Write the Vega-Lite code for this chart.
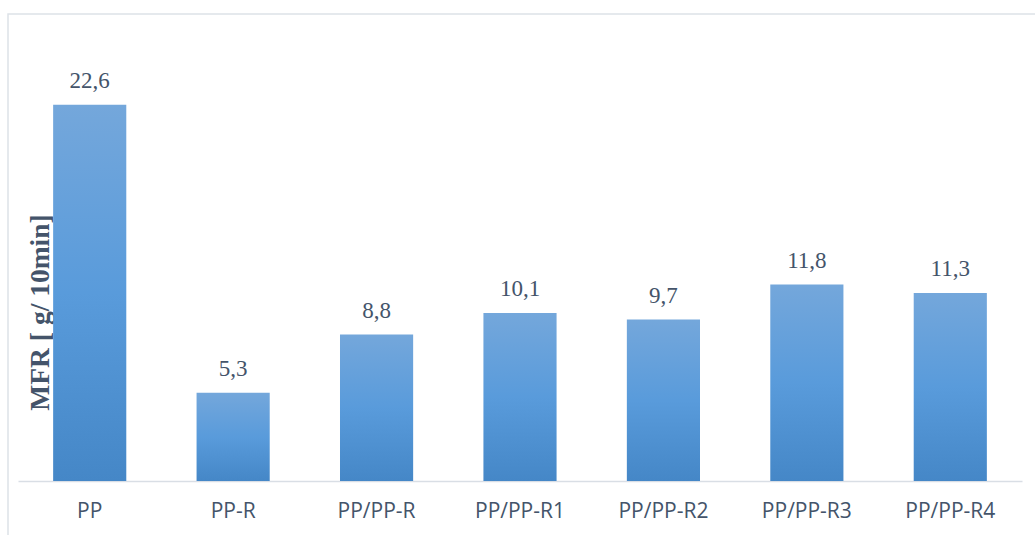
{
  "$schema": "https://vega.github.io/schema/vega-lite/v6.json",
  "autosize": "none",
  "width": 1040,
  "height": 530,
  "padding": {"left": 8, "top": 14, "right": -13, "bottom": -9},
  "background": "white",
  "config": {
    "view": {"stroke": "#dde2e8", "strokeWidth": 1.5},
    "locale": {"number": {"decimal": ",", "thousands": ".", "grouping": [3], "currency": ["", " €"]}}
  },
  "data": {
    "values": [
      {"sample": "PP", "mfr": 22.6},
      {"sample": "PP-R", "mfr": 5.3},
      {"sample": "PP/PP-R", "mfr": 8.8},
      {"sample": "PP/PP-R1", "mfr": 10.1},
      {"sample": "PP/PP-R2", "mfr": 9.7},
      {"sample": "PP/PP-R3", "mfr": 11.8},
      {"sample": "PP/PP-R4", "mfr": 11.3}
    ]
  },
  "encoding": {
    "x": {
      "field": "sample",
      "type": "nominal",
      "sort": null,
      "scale": {"range": [10, 1014], "paddingInner": 0.49, "paddingOuter": 0.245},
      "axis": {
        "title": null,
        "labelAngle": 0,
        "offset": -63,
        "domainColor": "#d9dee5",
        "domainWidth": 1.5,
        "ticks": false,
        "tickSize": 0,
        "labelFont": "Open Sans",
        "labelFontSize": 21,
        "labelColor": "#44546a",
        "labelBaseline": "alphabetic",
        "labelPadding": 36
      }
    },
    "y": {
      "field": "mfr",
      "type": "quantitative",
      "scale": {"domain": [0, 28], "range": [467, 1], "nice": false, "zero": true},
      "axis": {
        "title": "MFR [ g/ 10min]",
        "domain": false,
        "ticks": false,
        "labels": false,
        "grid": false,
        "titleFont": "Liberation Serif",
        "titleFontWeight": "bold",
        "titleFontSize": 27.5,
        "titleColor": "#44546a",
        "titleAngle": -90,
        "titleAlign": "center",
        "titleBaseline": "middle",
        "titleX": 32,
        "titleY": 298
      }
    }
  },
  "layer": [
    {
      "mark": {
        "type": "bar",
        "color": {
          "gradient": "linear",
          "x1": 0, "y1": 0, "x2": 0, "y2": 1,
          "stops": [
            {"offset": 0, "color": "#74a7db"},
            {"offset": 0.5, "color": "#599bdb"},
            {"offset": 1, "color": "#4587c7"}
          ]
        }
      }
    },
    {
      "mark": {
        "type": "text",
        "font": "Liberation Serif",
        "fontSize": 23,
        "color": "#44546a",
        "baseline": "alphabetic",
        "dy": -17
      },
      "encoding": {
        "text": {"field": "mfr", "type": "quantitative", "format": ".1f"}
      }
    }
  ]
}
